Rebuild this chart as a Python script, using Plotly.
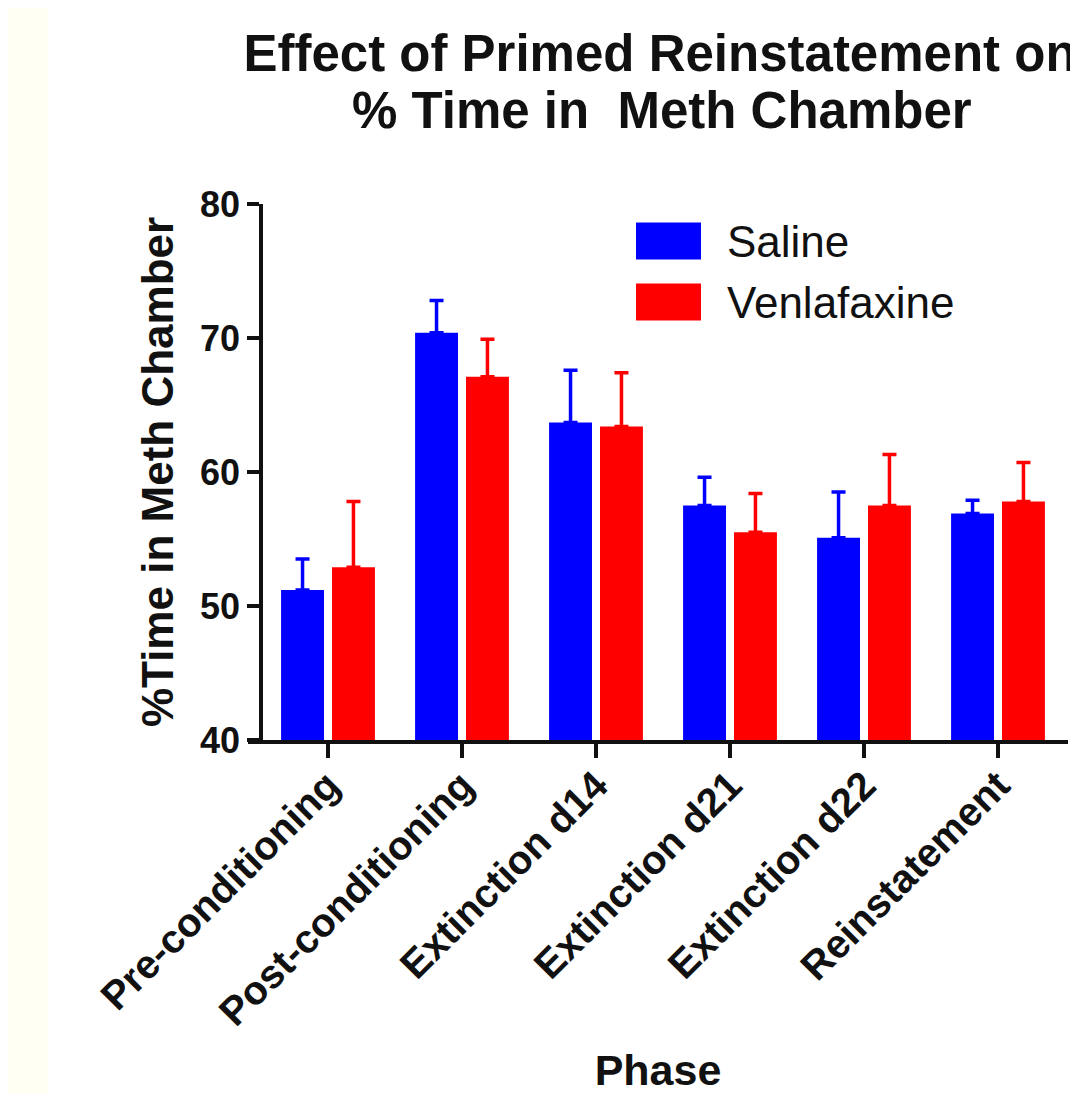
import plotly.graph_objects as go

categories = ["Pre-conditioning", "Post-conditioning", "Extinction d14",
              "Extinction d21", "Extinction d22", "Reinstatement"]
saline_mean = [51.2, 70.4, 63.7, 57.5, 55.1, 56.9]
saline_err = [2.3, 2.4, 3.9, 2.1, 3.4, 1.0]
venla_mean = [52.9, 67.1, 63.4, 55.5, 57.5, 57.8]
venla_err = [4.9, 2.8, 4.0, 2.9, 3.8, 2.9]
series_names = ["Saline", "Venlafaxine"]
series_colors = ["#0000FF", "#FF0000"]
y_ticks = [40, 50, 60, 70, 80]
title_lines = ["Effect of Primed Reinstatement on", "% Time in  Meth Chamber"]

OFF = 8  # page body margin
W, H = 1070, 1086
L, R, T, B = 240, 10, 196, 354
pw = W - L - R
ph = H - T - B

FONT = "Liberation Sans, Arial, sans-serif"


def px(xp):
    return (xp - OFF - L) / pw


def py(yp):
    return 1 - (yp - OFF - T) / ph


fig = go.Figure()
for name, means, errs, col in zip(series_names, [saline_mean, venla_mean],
                                  [saline_err, venla_err], series_colors):
    fig.add_trace(go.Bar(
        x=list(range(len(categories))), y=means, name=name,
        marker=dict(color=col, line=dict(width=0)),
        error_y=dict(type="data", array=errs, arrayminus=[0] * len(errs),
                     symmetric=False, color=col, thickness=3.5, width=7),
        showlegend=False,
    ))

# manual legend (large swatches like the original)
for i, (name, col) in enumerate(zip(series_names, series_colors)):
    yc = 241 + i * 61
    fig.add_shape(type="rect", xref="paper", yref="paper",
                  x0=px(636), x1=px(701), y0=py(yc - 18.5), y1=py(yc + 18.5),
                  fillcolor=col, line=dict(width=0))
    fig.add_annotation(xref="paper", yref="paper", x=px(725), y=py(yc),
                       text=name, showarrow=False, xanchor="left", yanchor="middle",
                       font=dict(family=FONT, size=44, color="#111"))

# second title line
fig.add_annotation(xref="paper", yref="paper", x=px(662), y=py(141),
                   text=title_lines[1], showarrow=False, xanchor="center",
                   yanchor="bottom",
                   font=dict(family=FONT, size=51, color="#111", weight="bold"))

# cream strip on the left edge
fig.add_shape(type="rect", xref="paper", yref="paper", layer="below",
              x0=px(-10), x1=px(48), y0=-2, y1=2,
              fillcolor="#FFFFF3", line=dict(width=0))

cat_pos = list(range(len(categories)))

fig.update_layout(
    width=W, height=H,
    margin=dict(l=L, r=R, t=T, b=B),
    paper_bgcolor="white", plot_bgcolor="white",
    barmode="group", bargap=0.24, bargroupgap=0.157,
    title=dict(text=title_lines[0],
               x=(660 - OFF) / W, xanchor="center", xref="container",
               y=1 - (35 - OFF) / H, yanchor="top", yref="container",
               font=dict(family=FONT, size=51, color="#111", weight="bold")),
    xaxis=dict(
        range=[-80 / 134, 5 + 70 / 134], automargin=False,
        tickmode="array", tickvals=cat_pos, ticktext=categories,
        tickangle=-45, ticks="outside", ticklen=2, tickwidth=3.5, tickcolor="#111",
        minor=dict(tickmode="array", tickvals=cat_pos, ticks="outside",
                   ticklen=14, tickwidth=3.5, tickcolor="#111", showgrid=False),
        showline=True, linewidth=3.5, linecolor="#111", showgrid=False, zeroline=False,
        tickfont=dict(family=FONT, size=40, color="#111", weight="bold"),
        title=dict(text="Phase", standoff=60,
                   font=dict(family=FONT, size=43, color="#111", weight="bold")),
    ),
    yaxis=dict(
        range=[40, 80], tickvals=y_ticks, anchor="free", position=13 / pw,
        automargin=False,
        ticks="outside", ticklen=12, tickwidth=3.5, tickcolor="#111",
        showline=True, linewidth=3.5, linecolor="#111", showgrid=False, zeroline=False,
        tickfont=dict(family=FONT, size=36, color="#111", weight="bold"),
        title=dict(text="%Time in Meth Chamber", standoff=12,
                   font=dict(family=FONT, size=44, color="#111", weight="bold")),
    ),
)

fig.write_html("out.html")
